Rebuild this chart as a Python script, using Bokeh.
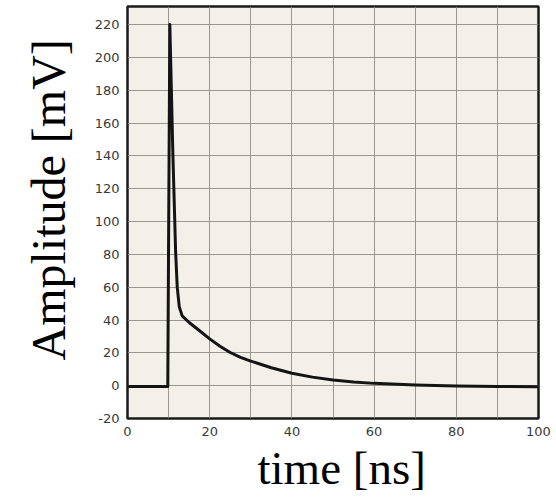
from bokeh.plotting import figure
from bokeh.models import Range1d, FixedTicker, Title, PrintfTickFormatter
from bokeh.embed import file_html
from bokeh.resources import INLINE

# Detector pulse: sharp spike followed by a slow tail
time_ns = [0, 9.8, 10.3, 11.0, 11.7, 12.1, 12.6, 13.3, 15, 17, 20, 22.5,
           25, 27.5, 30, 35, 40, 45, 50, 55, 60, 70, 80, 90, 100]
amplitude_mv = [-0.5, -0.5, 220, 145, 82, 60, 48, 42.5, 38.5, 34.5, 28.5, 24,
                20.2, 17.2, 15.0, 10.9, 7.6, 5.2, 3.4, 2.2, 1.4, 0.4, -0.2, -0.5, -0.7]

x_ticks = [0, 20, 40, 60, 80, 100]
x_grid = [0, 10, 20, 30, 40, 50, 60, 70, 80, 90, 100]
y_ticks = [-20, 0, 20, 40, 60, 80, 100, 120, 140, 160, 180, 200, 220]

p = figure(width=556, height=497, output_backend="svg", toolbar_location=None,
           x_range=Range1d(0, 100), y_range=Range1d(-20, 231),
           min_border_left=127, min_border_right=18,
           min_border_top=6, min_border_bottom=79)

p.background_fill_color = "#f3f0e9"
p.border_fill_color = "white"
p.outline_line_color = "#1a1a1a"
p.outline_line_width = 2.5
p.outline_line_alpha = 1.0

p.xaxis.ticker = FixedTicker(ticks=x_ticks)
p.yaxis.ticker = FixedTicker(ticks=y_ticks)
p.xgrid.ticker = FixedTicker(ticks=x_grid)
p.ygrid.ticker = FixedTicker(ticks=y_ticks)
p.xaxis.formatter = PrintfTickFormatter(format="%d")
p.yaxis.formatter = PrintfTickFormatter(format="%d")

for g in (p.xgrid, p.ygrid):
    g.grid_line_color = "#8a8882"
    g.grid_line_width = 1
    g.grid_line_alpha = 0.85

for ax in (p.xaxis, p.yaxis):
    ax.axis_line_color = None
    ax.major_tick_line_color = None
    ax.minor_tick_line_color = None
    ax.major_tick_out = 0
    ax.major_tick_in = 0
    ax.major_label_text_font = "DejaVu Sans"
    ax.major_label_text_font_size = "13px"
    ax.major_label_text_color = "#3a3a3a"

p.yaxis.major_label_standoff = 8
p.xaxis.major_label_standoff = 8

p.line(time_ns, amplitude_mv, line_color="#141414", line_width=3, line_join="round")

# Axis titles as side titles, positioned along their axes by offset
p.add_layout(Title(text="Amplitude [mV]", align="left", offset=58, standoff=34,
                   text_font="Liberation Serif", text_font_size="48px",
                   text_font_style="normal", text_color="black"), "left")
p.add_layout(Title(text="time [ns]", align="left", offset=130, standoff=3,
                   text_font="Liberation Serif", text_font_size="47px",
                   text_font_style="normal", text_color="black"), "below")

open("out.html", "w").write(file_html(p, INLINE))
